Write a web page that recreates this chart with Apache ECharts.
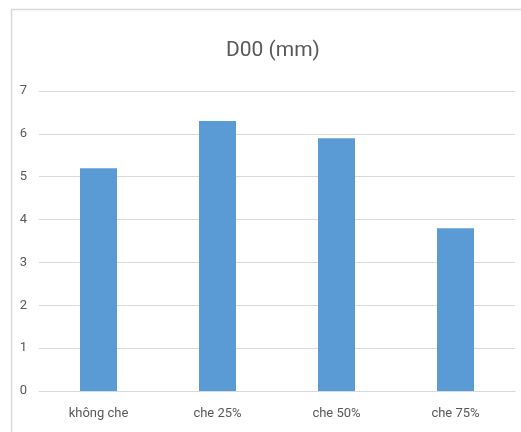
<!DOCTYPE html>
<html><head><meta charset="utf-8">
<script src="https://cdn.jsdelivr.net/npm/echarts@6/dist/echarts.min.js"></script>
<style>html,body{margin:0;padding:0;background:#fff}#c{width:521px;height:432px}</style>
</head><body><div id="c"></div>
<script>
const categories = ['không che', 'che 25%', 'che 50%', 'che 75%'];
const values = [5.2, 6.3, 5.9, 3.8];
const titleText = 'D00 (mm)';
const font = "Roboto, 'Open Sans', sans-serif";
const chart = echarts.init(document.getElementById('c'));
chart.setOption({
  animation: false,
  backgroundColor: '#fff',
  title: {
    text: titleText, left: 221, top: 35,
    textStyle: { fontFamily: font, fontWeight: 'normal', fontSize: 21, color: '#595959' }
  },
  graphic: [{
    type: 'rect', shape: { x: 11.5, y: 9.5, width: 530, height: 450 },
    style: { fill: 'none', stroke: '#d9d9d9', lineWidth: 1.5 }, silent: true
  }],
  grid: { left: 39, right: 6, top: 91, bottom: 41, containLabel: false },
  xAxis: {
    type: 'category', data: categories,
    axisLine: { lineStyle: { color: '#d9d9d9' } },
    axisTick: { show: false },
    axisLabel: { color: '#595959', fontSize: 13, fontFamily: font, margin: 16 }
  },
  yAxis: {
    type: 'value', min: 0, max: 7, interval: 1,
    axisLine: { show: false }, axisTick: { show: false },
    splitLine: { lineStyle: { color: '#d9d9d9' } },
    axisLabel: { color: '#595959', fontSize: 13, fontFamily: font, margin: 12 }
  },
  series: [{
    type: 'bar', data: values, barWidth: 37,
    itemStyle: { color: '#5b9bd5' }
  }]
});
</script></body></html>
